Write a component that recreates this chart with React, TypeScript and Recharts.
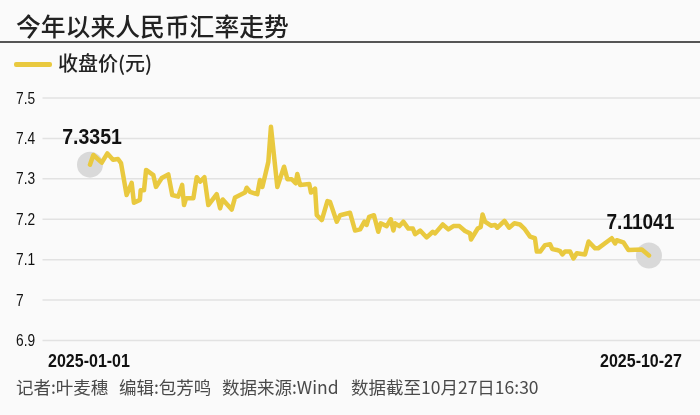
import React from "react";
import { LineChart, Line, XAxis, YAxis, CartesianGrid, ReferenceDot } from "recharts";

const dayOffsets = [0,1.8,6.3,9.3,12.3,15,16.6,19.6,22.3,23.5,26.7,27.1,28.9,30,33.9,35.3,38.4,41.9,44,47.2,49.3,50.3,51.4,55.3,57.1,58.9,61.2,63.3,67.8,69.6,71,75.8,77.6,82.9,83.8,85.6,89.5,90.9,92.2,95.4,96.8,100.2,103.8,105.6,107.9,110,110.9,112.4,117.3,118.2,120.4,121.3,124,127,128.4,132,133.8,139.1,141.8,144.5,146.8,148,149.3,151.9,154.2,155.5,158.7,160.9,162.3,163.2,165.5,167.6,170.3,172.7,173.9,176.6,180.1,183.4,184.6,188.7,191.7,194.4,197.6,200.6,203.3,203.8,207.4,209,210,211.3,214.5,216.7,217.9,221.7,224.2,227,230,232.3,235.4,238,239,240.8,243.4,246.1,247.3,249.7,251.5,252.7,254.1,256.8,258.6,260.4,264.8,266.7,270.2,271.8,279.1,280.9,281.8,285.3,288,295.2,299];
const closes = [7.3351,7.359,7.34,7.363,7.347,7.349,7.339,7.26,7.29,7.241,7.248,7.272,7.272,7.322,7.309,7.28,7.302,7.311,7.26,7.256,7.285,7.235,7.252,7.252,7.304,7.293,7.304,7.235,7.262,7.227,7.249,7.224,7.254,7.266,7.278,7.268,7.262,7.297,7.28,7.342,7.429,7.28,7.33,7.299,7.299,7.289,7.312,7.285,7.287,7.266,7.276,7.21,7.198,7.245,7.243,7.194,7.21,7.216,7.172,7.175,7.194,7.186,7.206,7.21,7.169,7.19,7.183,7.2,7.172,7.19,7.183,7.194,7.177,7.177,7.163,7.172,7.155,7.169,7.165,7.187,7.175,7.183,7.183,7.171,7.165,7.15,7.177,7.181,7.212,7.194,7.184,7.186,7.179,7.196,7.179,7.19,7.187,7.177,7.157,7.153,7.12,7.12,7.136,7.138,7.126,7.124,7.121,7.113,7.12,7.12,7.103,7.116,7.113,7.145,7.128,7.128,7.153,7.14,7.148,7.143,7.124,7.125,7.11041];
const yTicks = [6.9,7,7.1,7.2,7.3,7.4,7.5];
const xTicks = [0,299];
const xLabels = ["2025-01-01","2025-10-27"];
const title = "今年以来人民币汇率走势";
const seriesName = "收盘价(元)";
const credits = ["记者:叶麦穗","编辑:包芳鸣","数据来源:Wind","数据截至10月27日16:30"];
const creditLeft = [16,119,222,351];
const startLabel = "7.3351";
const endLabel = "7.11041";

const rows = dayOffsets.map((day, i) => ({ day, close: closes[i] }));
const CJK = '"Noto Sans CJK SC", "Noto Sans", sans-serif';
const LATIN = '"Liberation Sans", Arial, sans-serif';
const YELLOW = "#e9c93f";

function Narrow({ x, y, anchor, size, weight, squeeze, children }: any) {
  return (
    <g transform={`translate(${x},${y}) scale(${squeeze},1)`}>
      <text x={0} y={0} textAnchor={anchor} fontFamily={LATIN} fontWeight={weight} fontSize={size} fill="#111">{children}</text>
    </g>
  );
}

function XTick({ x, y, payload }: any) {
  const first = payload.value === xTicks[0];
  return (
    <Narrow x={first ? x - 1 : x - 8} y={y + 4} anchor="middle" size={18} weight={700} squeeze={0.89}>
      {xLabels[xTicks.indexOf(payload.value)]}
    </Narrow>
  );
}

function YTick({ y, payload }: any) {
  return (
    <Narrow x={16} y={y + 5.5} anchor="start" size={16} weight={400} squeeze={0.86}>
      {String(payload.value)}
    </Narrow>
  );
}

export default function App() {
  const lastIndex = dayOffsets.length - 1;
  return (
    <div style={{ position: "absolute", left: 0, top: 0, width: 700, height: 415, background: "#fafafa", overflow: "hidden" }}>
      <div style={{ position: "absolute", left: 16, top: 7, fontFamily: CJK, fontSize: 24.8, fontWeight: 500, lineHeight: "36px", color: "#222", whiteSpace: "nowrap" }}>{title}</div>
      <div style={{ position: "absolute", left: 0, top: 41, width: 700, height: 2, background: "#555" }} />
      <div style={{ position: "absolute", left: 14, top: 62, width: 38, height: 4.5, borderRadius: 2, background: YELLOW }} />
      <div style={{ position: "absolute", left: 58, top: 48, fontFamily: CJK, fontSize: 20, fontWeight: 500, lineHeight: "30px", color: "#222", whiteSpace: "nowrap" }}>{seriesName}</div>
      <LineChart width={700} height={415} data={rows} margin={{ top: 98, right: 0, bottom: 44.5, left: 0 }} style={{ position: "absolute", left: 0, top: 0 }}>
        <CartesianGrid vertical={false} stroke="#e2e2e2" strokeWidth={1.5} />
        <XAxis dataKey="day" type="number" domain={[-25.4, 326.3]} ticks={xTicks} axisLine={false} tickLine={false} height={30} tick={<XTick />} tickMargin={16} interval={0} allowDataOverflow />
        <YAxis type="number" domain={[6.9, 7.5]} ticks={yTicks} width={42.5} axisLine={false} tickLine={false} interval={0} tick={<YTick />} />
        <ReferenceDot x={dayOffsets[0]} y={closes[0]} r={13} fill="#d9d9d9" stroke="none" zIndex={300} style={{ mixBlendMode: "darken" }} />
        <ReferenceDot x={dayOffsets[lastIndex]} y={closes[lastIndex]} r={13} fill="#d9d9d9" stroke="none" zIndex={300} style={{ mixBlendMode: "darken" }} />
        <Line dataKey="close" name={seriesName} type="linear" stroke={YELLOW} strokeWidth={4.5} strokeLinejoin="round" strokeLinecap="round" dot={false} activeDot={false} isAnimationActive={false} />
        <ReferenceDot x={1.1} y={7.386} r={0} stroke="none" fill="none" shape={(p: any) => <Narrow x={p.cx} y={p.cy} anchor="middle" size={22.4} weight={700} squeeze={0.87}>{startLabel}</Narrow>} />
        <ReferenceDot x={294.4} y={7.1757} r={0} stroke="none" fill="none" shape={(p: any) => <Narrow x={p.cx} y={p.cy} anchor="middle" size={22.4} weight={700} squeeze={0.85}>{endLabel}</Narrow>} />
      </LineChart>
      {credits.map((c, i) => (
        <div key={c} style={{ position: "absolute", left: creditLeft[i], top: 373, fontFamily: CJK, fontSize: 17.5, lineHeight: "28px", color: "#4a4a4a", whiteSpace: "nowrap" }}>{c}</div>
      ))}
    </div>
  );
}
